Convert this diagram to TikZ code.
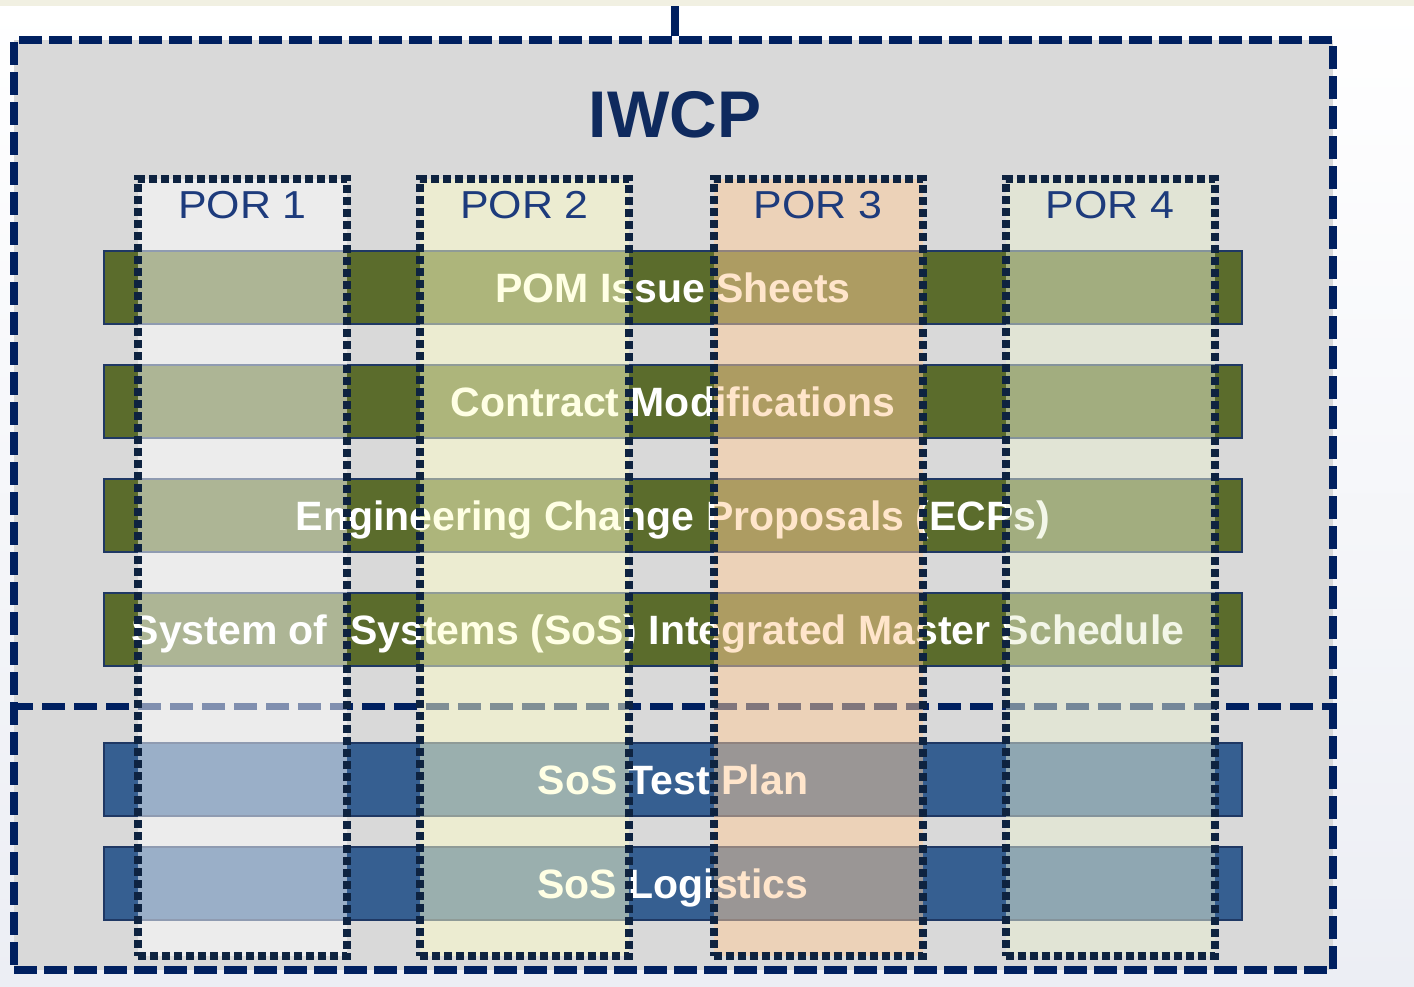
\documentclass[tikz,border=0pt]{standalone}
\usepackage{fontspec}
\setmainfont{Liberation Sans}
\newfontfamily\porfont[FakeStretch=1.1]{Liberation Sans}
\definecolor{navyA}{HTML}{002060}
\definecolor{dotc}{HTML}{0E2340}
\definecolor{greyfill}{HTML}{D9D9D9}
\definecolor{barG}{HTML}{5B6C2C}
\definecolor{barB}{HTML}{365F91}
\definecolor{barline}{HTML}{1F3864}
\definecolor{porblue}{HTML}{1D3B7C}
\definecolor{titleblue}{HTML}{0F2A5E}
\definecolor{colA}{HTML}{FFFFFF}
\definecolor{colB}{HTML}{FFFFCB}
\definecolor{colC}{HTML}{FFCD99}
\definecolor{colD}{HTML}{E9EFD3}
\definecolor{bgbot}{HTML}{ECEEF4}
\definecolor{topstrip}{HTML}{F1F0E2}
\begin{document}
\begin{tikzpicture}[x=1pt,y=-1pt,
  outerbox/.style={draw=navyA, line width=7.5pt, dash pattern=on 23pt off 7pt,
    fill=greyfill, minimum width=1319pt, minimum height=930pt, inner sep=0pt},
  feedline/.style={draw=navyA, line width=8pt},
  divider/.style={draw=navyA, line width=7pt, dash pattern=on 23pt off 9pt},
  barbox/.style={draw=barline, line width=2pt, minimum width=1138pt,
    minimum height=73pt, inner sep=0pt, text=white, text height=29pt, text depth=0pt,
    font=\fontsize{41}{41}\selectfont\bfseries},
  gbar/.style={barbox, fill=barG},
  bbar/.style={barbox, fill=barB},
  porcol/.style={draw=dotc, line width=8pt, dash pattern=on 8pt off 4pt,
    fill opacity=0.5, draw opacity=1, minimum width=209pt, minimum height=777pt,
    inner sep=0pt},
  porlabel/.style={text=porblue, font=\porfont\fontsize{39}{39}\selectfont,
    inner sep=0pt, anchor=base},
  titletext/.style={text=titleblue, font=\fontsize{66}{66}\selectfont\bfseries,
    inner sep=0pt, anchor=base}
]
\useasboundingbox (0,0) rectangle (1414,986);
\shade[top color=white, bottom color=bgbot] (0,0) rectangle (1414,986);
\fill[topstrip] (0,0) rectangle (1414,6);

\node[outerbox] (iwcp) at (673.5,505) {};
\coordinate (feed) at (675,6);
\draw[feedline] (feed) -- (feed |- iwcp.north);
\node[titletext] (title) at (675,137) {IWCP};

\coordinate (divy) at (0,706);
\draw[divider] (iwcp.west |- divy) -- (iwcp.east |- divy);

\node[gbar] (pom) at (673,287.5) {POM Issue Sheets};
\node[gbar] (contract) at (673,401.5) {Contract Modifications};
\node[gbar] (ecp) at (673,515.5) {Engineering Change Proposals (ECPs)};
\node[gbar] (imsched) at (673,629.5) {System of\ \ Systems (SoS) Integrated Master Schedule\kern30pt};
\node[bbar] (test) at (673,779.5) {SoS Test Plan};
\node[bbar] (logi) at (673,883.5) {SoS Logistics};

\node[porcol, fill=colA] (por1) at (242.5,567.5) {};
\node[porcol, fill=colB] (por2) at (524.5,567.5) {};
\node[porcol, fill=colC] (por3) at (818,567.5) {};
\node[porcol, fill=colD] (por4) at (1110,567.5) {};

\node[porlabel] (lab1) at (por1.north |- 0,218) {POR 1};
\node[porlabel] (lab2) at (por2.north |- 0,218) {POR 2};
\node[porlabel] (lab3) at (por3.north |- 0,218) {POR 3};
\node[porlabel] (lab4) at (por4.north |- 0,218) {POR 4};
\end{tikzpicture}
\end{document}
